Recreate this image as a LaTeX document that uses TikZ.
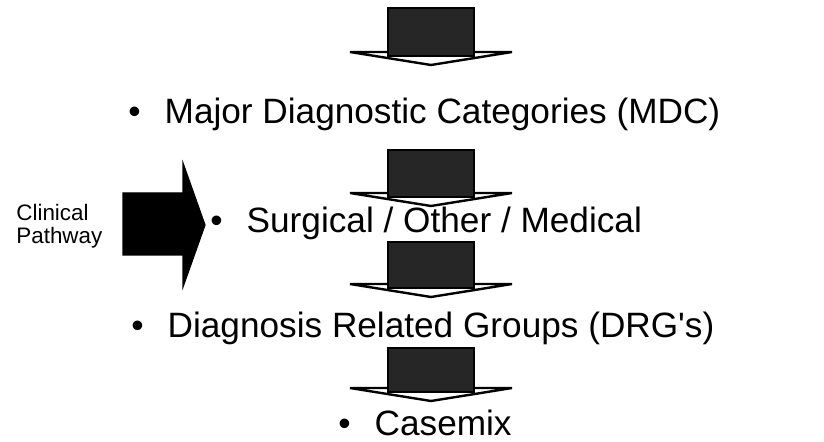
\documentclass[tikz,border=0pt]{standalone}
\usepackage{fontspec}
\setmainfont{Liberation Sans}
\usepackage{tikz}
\definecolor{shaftfill}{HTML}{262626}
\definecolor{shaftline}{HTML}{000000}
\tikzset{
  item/.style  = {anchor=base west, inner sep=0pt, font=\fontsize{17.6}{20}\selectfont},
  side/.style  = {anchor=west, inner sep=0pt, align=left, font=\fontsize{11.2}{11.4}\selectfont},
  shaft/.style = {draw=shaftline, fill=shaftfill, line width=0.8pt},
  head/.style  = {draw=shaftline, fill=white, line width=1.2pt, line join=miter},
  bigarrow/.style = {draw=black, fill=black, line width=0.6pt, line join=miter},
}
\newcommand{\bul}{\textbullet\hspace{12pt}}

\begin{document}
\begin{tikzpicture}[x=0.5pt, y=-0.5pt]
        \useasboundingbox (0,0) rectangle (824,442);
        % flat-headed down arrows
        \foreach \t/\b in {8/52, 150/193, 242/284, 348/388}{
          \draw[head] (350,\b) -- (512,\b) -- (431,\b+13) -- cycle;
          \draw[shaft] (388,\t) rectangle (474,\b+4);
        }
        \node[item] (mdc) at (128,124) {\bul Major Diagnostic Categories (MDC)};
        \node[item] (som) at (210,233) {\bul Surgical / Other / Medical};
        \node[item] (drg) at (131,338) {\bul Diagnosis Related Groups (DRG\textquotesingle s)};
        \node[item] (cmx) at (338,436) {\bul Casemix};
        % side arrow
        \node[side] (cp) at (16,226) {Clinical\\Pathway};
        \draw[bigarrow] (123,193) -- (183,193) -- (183,163) -- (205,225)
          -- (183,287) -- (183,255) -- (123,255) -- cycle;
    \end{tikzpicture}
\end{document}
